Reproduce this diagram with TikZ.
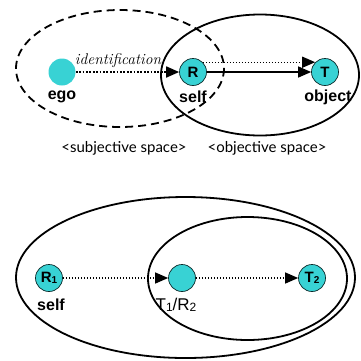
\documentclass[tikz,border=0pt]{standalone}
\usepackage{fontspec}
\setmainfont{Liberation Sans}
\newfontfamily\spacefont{Lato}
\newfontfamily\itfont{Latin Modern Roman}
\usetikzlibrary{arrows.meta}
\definecolor{cyanfill}{RGB}{56,210,212}
\begin{document}
\begin{tikzpicture}[x=1pt,y=-1pt,
  dot/.style={circle,fill=cyanfill,minimum size=27pt,inner sep=0pt,draw=black!80!cyanfill,line width=0.7pt,font=\bfseries\fontsize{15}{15}\selectfont},
  lbl/.style={font=\bfseries\fontsize{16}{16}\selectfont},
  spc/.style={font=\spacefont\fontsize{15}{15}\selectfont},
  tip/.style={-{Triangle[length=13pt,width=11pt]}},
  dotline/.style={line width=1.8pt,dash pattern=on 1.8pt off 1.6pt},
  thindot/.style={line width=1.3pt,dash pattern=on 1.5pt off 1.5pt},
  ring/.style={line width=1.8pt}]
\useasboundingbox (0,0) rectangle (361,360);
% top
\draw[ring,dash pattern=on 8pt off 5pt] (120,68.5) ellipse [x radius=104, y radius=58.5];
\draw[ring] (260,75) ellipse [x radius=99, y radius=60.5];
\node[dot,draw=none] (ego) at (62,72) {};
\node[dot] (R) at (193,72) {R};
\node[dot] (T) at (325,72) {T};
\node[lbl] (egol) at (62,97) {ego};
\node[lbl] (selfl) at (193,97) {self};
\node[lbl] (objl) at (328,97) {object};
\node[font=\itfont\itshape\fontsize{15.5}{15.5}\selectfont] (idl) at (118,61) {identification};
\draw[dotline,tip] (ego) -- (R);
\draw[line width=1.3pt,tip] (R) -- (T);
\draw[thindot,tip] (R.45) -- (T.135);
\node[spc] (subj) at (124,148) {<subjective space>};
\node[spc] (obj) at (267,148) {<objective space>};
% bottom
\draw[ring] (185.5,277.5) ellipse [x radius=169.5, y radius=80.5];
\draw[ring] (247.5,278.5) ellipse [x radius=99.5, y radius=61.5];
\node[dot] (R1) at (49,278) {R\raisebox{-0.5pt}{\fontsize{10}{10}\selectfont 1}};
\node[dot] (M) at (182,278) {};
\node[dot] (T2) at (312,278) {T\raisebox{-0.5pt}{\fontsize{10}{10}\selectfont 2}};
\node[lbl] (selfl2) at (51,305) {self};
\node[font=\fontsize{17}{17}\selectfont] (tr) at (176,305) {T\raisebox{-0.5pt}{\fontsize{12}{12}\selectfont 1}/R\raisebox{-0.5pt}{\fontsize{12}{12}\selectfont 2}};
\draw[thindot,tip] (R1) -- (M);
\draw[thindot,tip] (M) -- (T2);
\end{tikzpicture}
\end{document}
